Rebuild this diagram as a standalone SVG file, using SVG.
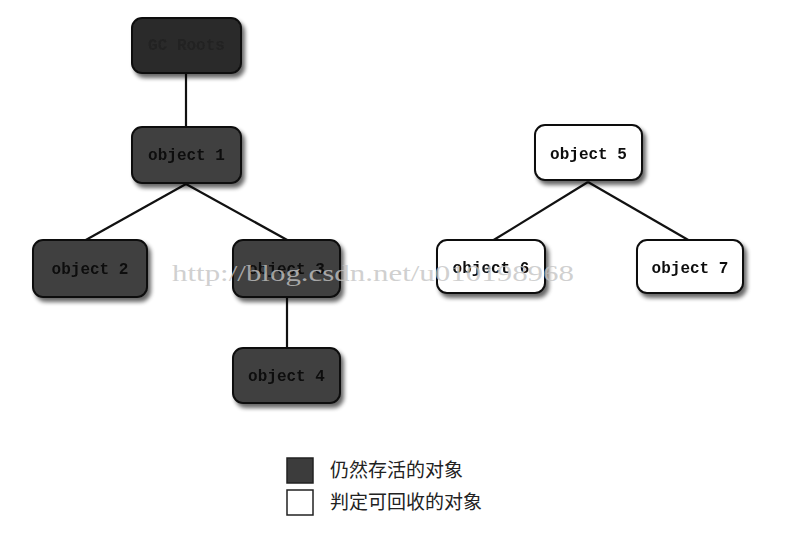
<svg xmlns="http://www.w3.org/2000/svg" width="789" height="533" viewBox="0 0 789 533">
<defs>
<filter id="sh" x="-20%" y="-20%" width="150%" height="160%">
<feGaussianBlur in="SourceAlpha" stdDeviation="2"/>
<feOffset dx="3" dy="4" result="o"/>
<feComponentTransfer><feFuncA type="linear" slope="0.6"/></feComponentTransfer>
<feMerge><feMergeNode/><feMergeNode in="SourceGraphic"/></feMerge>
</filter>
<style>
.live{fill:#414141;stroke:#111;stroke-width:2}
.root{fill:#2a2a2a;stroke:#111;stroke-width:2}
.dead{fill:#fff;stroke:#111;stroke-width:2}
.lbl{font-family:"Liberation Mono","DejaVu Sans Mono",monospace;font-weight:bold;font-size:16px;text-anchor:middle}
.lbl-d{fill:#0e0e0e}
.lbl-w{fill:#111}
.conn line{stroke:#111;stroke-width:2.2}
.leg{font-family:"Noto Sans CJK SC","Noto Sans CJK JP",sans-serif;font-size:19px;fill:#222}
.wm{font-family:"Liberation Serif","DejaVu Serif",serif;font-size:24px;fill:#c4c4c4;fill-opacity:0.8}
</style>
</defs>
<rect width="789" height="533" fill="#fff"/>
<g class="conn">
<line x1="186" y1="73" x2="186" y2="127"/>
<line x1="186" y1="184" x2="84" y2="241"/>
<line x1="186" y1="184" x2="289" y2="241"/>
<line x1="287" y1="298" x2="287" y2="348"/>
<line x1="588" y1="182" x2="492" y2="241"/>
<line x1="588" y1="182" x2="690" y2="241"/>
</g>
<g id="root" filter="url(#sh)">
<rect class="root" x="132" y="18" width="109" height="55" rx="10"/>
<text class="lbl" x="186.5" y="50" fill="#242424">GC Roots</text>
</g>
<g id="object1" filter="url(#sh)">
<rect class="live" x="132" y="127" width="109" height="56" rx="10"/>
<text class="lbl lbl-d" x="186.5" y="160">object 1</text>
</g>
<g id="object2" filter="url(#sh)">
<rect class="live" x="33" y="240" width="114" height="57" rx="10"/>
<text class="lbl lbl-d" x="90" y="274">object 2</text>
</g>
<g id="object3" filter="url(#sh)">
<rect class="live" x="233" y="240" width="107" height="57" rx="10"/>
<text class="lbl lbl-d" x="286.5" y="274">object 3</text>
</g>
<g id="object4" filter="url(#sh)">
<rect class="live" x="233" y="348" width="107" height="55" rx="10"/>
<text class="lbl lbl-d" x="286.5" y="381">object 4</text>
</g>
<g id="object5" filter="url(#sh)">
<rect class="dead" x="535" y="125" width="107" height="55" rx="10"/>
<text class="lbl lbl-w" x="588.5" y="159">object 5</text>
</g>
<g id="object6" filter="url(#sh)">
<rect class="dead" x="437" y="240" width="108" height="53" rx="10"/>
<text class="lbl lbl-w" x="491" y="273">object 6</text>
</g>
<g id="object7" filter="url(#sh)">
<rect class="dead" x="637" y="240" width="106" height="53" rx="10"/>
<text class="lbl lbl-w" x="690" y="273">object 7</text>
</g>
<text class="wm" x="172" y="281" textLength="402" lengthAdjust="spacingAndGlyphs">http://blog.csdn.net/u010198968</text>
<g id="legend">
<rect x="287" y="458" width="26" height="25" fill="#3c3c3c" stroke="#222" stroke-width="1.5"/>
<rect x="287" y="490" width="26" height="25" fill="#fff" stroke="#222" stroke-width="1.5"/>
<text class="leg" x="330" y="477">仍然存活的对象</text>
<text class="leg" x="330" y="509">判定可回收的对象</text>
</g>
</svg>
